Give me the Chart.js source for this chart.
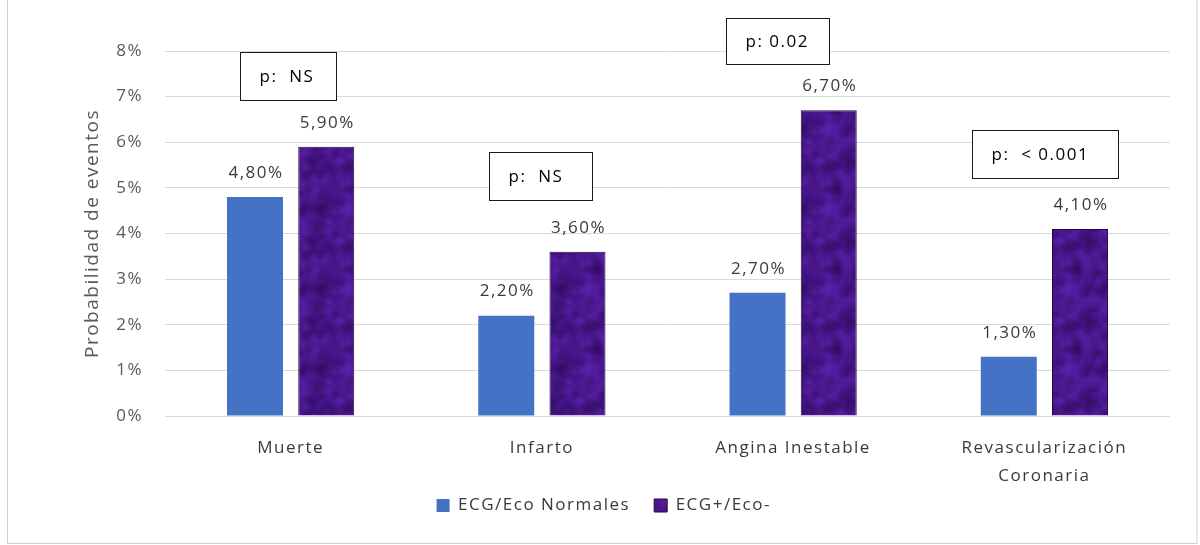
<!DOCTYPE html>
<html>
<head>
<meta charset="utf-8">
<script src="https://cdn.jsdelivr.net/npm/chart.js@4.4.1/dist/chart.umd.min.js"></script>
<style>
  html, body { margin: 0; padding: 0; background: #ffffff; }
  #wrap { width: 1200px; height: 545px; position: relative; }
</style>
</head>
<body>
<div id="wrap"><canvas id="c" width="1200" height="545"></canvas></div>
<script>
// ---- data ----
const categories = ['Muerte', 'Infarto', 'Angina Inestable', ['Revascularización', 'Coronaria']];
const normales = [4.8, 2.2, 2.7, 1.3];
const alterados = [5.9, 3.6, 6.7, 4.1];
const seriesNames = ['ECG/Eco Normales', 'ECG+/Eco-'];
const pValues = ['p:  NS', 'p:  NS', 'p: 0.02', 'p:  < 0.001'];
const yTicks = [0, 1, 2, 3, 4, 5, 6, 7, 8];

// ---- textured purple fill (deterministic) ----
function makeTexture() {
  const c = document.createElement('canvas');
  c.width = 80; c.height = 80;
  const g = c.getContext('2d');
  g.fillStyle = '#4c1a92';
  g.fillRect(0, 0, 80, 80);
  let s = 987654;
  const rnd = () => { s = (s * 1103515245 + 12345) & 0x7fffffff; return s / 0x7fffffff; };
  const cols = ['rgba(30,6,60,0.22)', 'rgba(105,45,190,0.22)', 'rgba(45,12,90,0.22)', 'rgba(95,35,175,0.20)'];
  g.filter = 'blur(1.5px)';
  for (let i = 0; i < 220; i++) {
    g.fillStyle = cols[i % cols.length];
    const x = rnd() * 80, y = rnd() * 80, r = 2 + rnd() * 5;
    for (const ox of [0, -80, 80]) for (const oy of [0, -80, 80]) {
      g.beginPath(); g.arc(x + ox, y + oy, r, 0, Math.PI * 2); g.fill();
    }
  }
  return g.createPattern(c, 'repeat');
}
const purpleFill = makeTexture();

const FONT = "'Open Sans', 'Liberation Sans', sans-serif";

const spacingPlugin = {
  id: 'spacing',
  afterLayout(chart) {
    // keep the two-line category label inside the x scale's label area
    const x = chart.scales.x;
    x.bottom = x.top + 80;
  },
  beforeDraw(chart) { chart.ctx.letterSpacing = '1.5px'; }
};

const borderPlugin = {
  id: 'outerBorder',
  afterDraw(chart) {
    const ctx = chart.ctx;
    ctx.save();
    ctx.strokeStyle = '#d0d0d0';
    ctx.lineWidth = 1;
    ctx.strokeRect(7.5, -5, 1189.5, 548.5);
    ctx.restore();
  }
};

const labelPlugin = {
  id: 'valueLabels',
  afterDatasetsDraw(chart) {
    const ctx = chart.ctx;
    ctx.save();
    ctx.letterSpacing = '1.5px';
    ctx.font = '17px ' + FONT;
    ctx.fillStyle = '#3a3a3a';
    ctx.textAlign = 'center';
    ctx.textBaseline = 'middle';
    chart.data.datasets.forEach((ds, di) => {
      const meta = chart.getDatasetMeta(di);
      meta.data.forEach((el, i) => {
        const v = ds.data[i];
        const txt = v.toFixed(2).replace('.', ',') + '%';
        ctx.fillText(txt, el.x + 1, el.y - 24);
      });
    });
    ctx.restore();
  }
};

const boxPlugin = {
  id: 'pBoxes',
  afterDraw(chart, args, opts) {
    const ctx = chart.ctx;
    const xs = chart.scales.x, ys = chart.scales.y;
    ctx.save();
    ctx.letterSpacing = '1.5px';
    ctx.font = '17px ' + FONT;
    ctx.textBaseline = 'middle';
    ctx.textAlign = 'left';
    opts.boxes.forEach((b, i) => {
      const cx = xs.getPixelForValue(i);
      const left = Math.round(cx + b.dx) + 0.5;
      const top = Math.round(ys.getPixelForValue(b.yTop)) + 0.5;
      ctx.fillStyle = '#ffffff';
      ctx.fillRect(left, top, b.w, b.h);
      ctx.strokeStyle = '#1a1a1a';
      ctx.lineWidth = 1;
      ctx.strokeRect(left, top, b.w, b.h);
      ctx.fillStyle = '#000000';
      ctx.fillText(pValues[i], left + 19, top + b.h / 2 + 1);
    });
    ctx.restore();
  }
};

new Chart(document.getElementById('c'), {
  type: 'bar',
  data: {
    labels: categories,
    datasets: [
      { label: seriesNames[0], data: normales, backgroundColor: '#4472c4', borderWidth: 0,
        categoryPercentage: 0.567, barPercentage: 0.786 },
      { label: seriesNames[1], data: alterados, backgroundColor: purpleFill, borderColor: '#22083f', borderWidth: 1,
        categoryPercentage: 0.567, barPercentage: 0.786 }
    ]
  },
  options: {
    responsive: false,
    animation: false,
    devicePixelRatio: 1,
    layout: { padding: { top: 51, right: 30, bottom: 21, left: 0 } },
    plugins: {
      legend: {
        position: 'bottom',
        labels: {
          boxWidth: 13, boxHeight: 13, padding: 24,
          font: { family: FONT, size: 17 }, color: '#3a3a3a'
        }
      },
      tooltip: { enabled: false },
      pBoxes: {
        boxes: [
          { dx: -50.6, yTop: 7.98, w: 96, h: 48 },
          { dx: -53, yTop: 5.79, w: 103, h: 48 },
          { dx: -67, yTop: 8.72, w: 103, h: 46 },
          { dx: -72, yTop: 6.27, w: 146, h: 48 }
        ]
      }
    },
    scales: {
      x: {
        grid: { display: false },
        border: { display: false },
        ticks: { font: { family: FONT, size: 17, lineHeight: 1.6 }, color: '#3a3a3a', padding: 11, maxRotation: 0, autoSkip: false },
        afterFit(s) { s.height = 57; }
      },
      y: {
        min: 0, max: 8,
        afterBuildTicks(s) { s.ticks = yTicks.map(v => ({ value: v })); },
        grid: { color: '#d9d9d9', lineWidth: 1, drawTicks: false },
        border: { display: false },
        ticks: { font: { family: FONT, size: 17 }, color: '#595959', padding: 22, callback: v => v + '%' },
        title: { display: true, text: 'Probabilidad de eventos', font: { family: FONT, size: 19 }, color: '#595959', padding: { top: 81, bottom: 0 } },
        afterFit(s) { s.width = 165; }
      }
    }
  },
  plugins: [spacingPlugin, labelPlugin, boxPlugin, borderPlugin]
});
</script>
</body>
</html>
